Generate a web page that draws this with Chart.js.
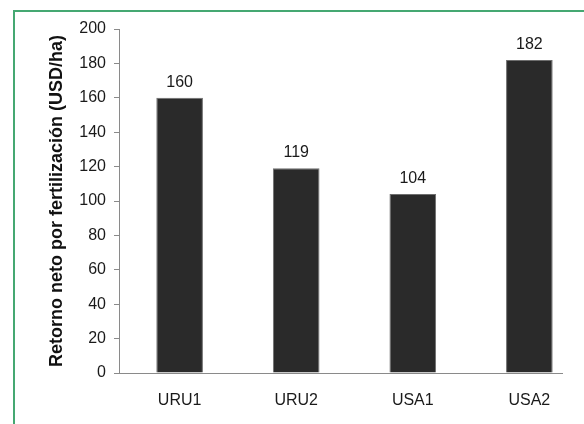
<!DOCTYPE html>
<html>
<head>
<meta charset="utf-8">
<script src="https://cdn.jsdelivr.net/npm/chart.js@4"></script>
<style>
  html, body { margin: 0; padding: 0; background: #fff; overflow: hidden; }
  #frame { position: absolute; left: 13px; top: 10px; width: 580px; height: 420px;
           border-left: 2px solid #45a872; border-top: 2px solid #45a872; }
  #wrap { position: absolute; left: 0; top: 0; width: 584px; height: 424px; }
</style>
</head>
<body>
<div id="frame"></div>
<div id="wrap"><canvas id="chart"></canvas></div>
<script>
// Data
const categories = ["URU1", "URU2", "USA1", "USA2"];
const retorno = [160, 119, 104, 182];
const yTicks = { min: 0, max: 200, step: 20 };
const yTitle = "Retorno neto por fertilización (USD/ha)";

const FONT = "'Liberation Sans', Arial, sans-serif";

// labels above each bar
const valueLabels = {
  id: "valueLabels",
  afterDatasetsDraw(chart) {
    const ctx = chart.ctx;
    const meta = chart.getDatasetMeta(0);
    ctx.save();
    ctx.font = "16px " + FONT;
    ctx.fillStyle = "#1a1a1a";
    ctx.textAlign = "center";
    ctx.textBaseline = "alphabetic";
    meta.data.forEach((bar, i) => {
      ctx.fillText(retorno[i], bar.x, bar.y - 11);
    });
    ctx.restore();
  }
};

new Chart(document.getElementById("chart"), {
  type: "bar",
  data: {
    datasets: [{
      data: retorno.map((v, i) => ({ x: i + 1, y: v })),
      backgroundColor: "#2a2a2a",
      borderColor: "#6e6e6e",
      borderWidth: 1,
      barPercentage: 0.4,
      categoryPercentage: 1
    }]
  },
  options: {
    responsive: true,
    maintainAspectRatio: false,
    animation: false,
    layout: { padding: { top: 29, right: 22, bottom: 0, left: 0 } },
    plugins: { legend: { display: false }, tooltip: { enabled: false } },
    scales: {
      x: {
        type: "linear",
        offset: false,
        grace: 0,
        min: 0.48,
        max: 4.28,
        afterFit(scale) { scale.height = 51; },
        // one tick per category
        afterBuildTicks(scale) {
          scale.ticks = categories.map((c, i) => ({ value: i + 1 }));
        },
        ticks: {
          padding: 18,
          color: "#1a1a1a",
          font: { family: FONT, size: 16 },
          callback: v => categories[v - 1] || ""
        },
        grid: { display: false, drawTicks: false, offset: false },
        border: { display: true, color: "#8a8a8a", width: 1 }
      },
      y: {
        min: yTicks.min,
        max: yTicks.max,
        afterFit(scale) { scale.width = 119; },
        ticks: {
          stepSize: yTicks.step,
          padding: 8,
          color: "#1a1a1a",
          font: { family: FONT, size: 16 }
        },
        grid: { drawOnChartArea: false, drawTicks: true, tickLength: 5, color: "#8a8a8a" },
        border: { display: true, color: "#8a8a8a", width: 1 },
        title: {
          display: true,
          text: yTitle,
          color: "#111",
          font: { family: FONT, size: 18, weight: "bold" },
          padding: { top: 46, bottom: 0 }
        }
      }
    }
  },
  plugins: [valueLabels]
});
</script>
</body>
</html>
